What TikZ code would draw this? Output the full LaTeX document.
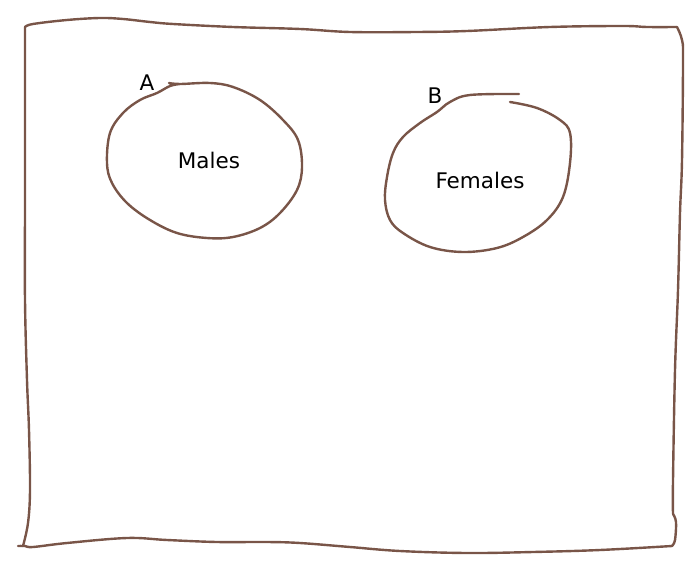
\documentclass[tikz,border=0pt]{standalone}
\usepackage{fontspec}
\setmainfont{DejaVu Sans}
\definecolor{sketch}{HTML}{795548}
\begin{document}
\begin{tikzpicture}[x=1pt,y=-1pt,
  sk/.style={draw=sketch,line width=2.4pt,line cap=round,line join=round},
  lbl/.style={font=\fontsize{21.5}{25}\selectfont,inner sep=0pt}]
\useasboundingbox (0,0) rectangle (700,569);
% outer frame
\draw[sk] plot[smooth,tension=0.6] coordinates {(23,546) (28,523) (30,490) (29,430) (27,380) (25,300) (25,200) (25,100) (25,27)};
\draw[sk] plot[smooth,tension=0.6] coordinates {(25,27) (33,24) (67,20) (100,18) (123,19) (150,22) (173,24) (233,27) (300,29) (350,32) (417,32) (467,31) (550,27) (623,26) (647,27) (677,27)};
\draw[sk] plot[smooth,tension=0.6] coordinates {(677,27) (682,40) (683,60) (682,160) (680,213) (678,290) (675,370) (673,480) (673,514)};
\draw[sk] plot[smooth,tension=0.6] coordinates {(673,514) (676,522) (675,540) (672,546)};
\draw[sk] plot[smooth,tension=0.6] coordinates {(672,546) (600,550) (533,552) (467,553) (400,551) (350,547) (300,543) (267,542) (217,542) (167,540) (127,538) (67,543) (33,547) (25,546) (18,546)};
% circle A
\draw[sk] plot[smooth,tension=0.6] coordinates {(169,83) (180,84) (210,83) (233,87) (260,100) (283,120) (298,140) (302,167) (297,190) (280,213) (260,228) (233,237) (207,238) (177,233) (150,220) (127,203) (112,183) (107,163) (110,133) (123,113) (140,100) (157,93) (170,86) (180,84)};
% circle B
\draw[sk] plot[smooth,tension=0.6] coordinates {(519,94) (470,95) (450,102) (437,112) (420,123) (403,137) (393,153) (387,177) (385,200) (390,220) (403,233) (430,247) (463,252) (497,248) (523,237) (547,220) (563,197) (570,163) (570,133) (560,120) (537,108) (510,102)};
% labels
\node[lbl] (la) at (147,83) {A};
\node[lbl] (lb) at (435,96) {B};
\node[lbl] (males) at (209,160) {Males};
\node[lbl] (females) at (480,180) {Females};
\end{tikzpicture}
\end{document}
